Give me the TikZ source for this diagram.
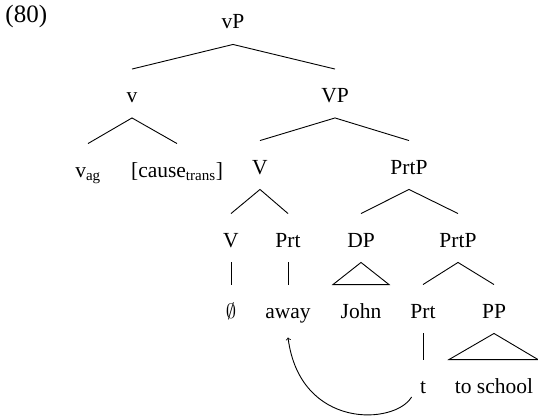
\documentclass[tikz,border=0pt]{standalone}
\usepackage{fontspec}
\setmainfont{Liberation Serif}
\usepackage{tikz}

\begin{document}
\begin{tikzpicture}[x=1pt, y=-1pt, line width=0.9pt,
  lab/.style={font=\fontsize{21.5}{25}\selectfont, anchor=base, inner xsep=0pt, inner ysep=11pt, text height=22pt, text depth=4pt}]
\useasboundingbox (0,0) rectangle (538,420);

\node [anchor=base west, inner sep=0pt, font=\fontsize{25}{29}\selectfont] (ex) at (5,23) {(80)};

\node [lab] (vP) at (233,29) {vP};
\node [lab] (v) at (132,102.5) {v};
\node [lab] (VP) at (335,102.5) {VP};
\node [lab] (vag) at (88,177) {v\textsubscript{ag}};
\node [lab] (cause) at (177,177) {[cause\textsubscript{trans}]};
\node [lab] (V) at (260,174) {V};
\node [lab] (PrtP) at (409,174) {PrtP};
\node [lab] (Vlow) at (231,247) {V};
\node [lab] (Prt) at (288,247) {Prt};
\node [lab] (DP) at (361,247) {DP};
\node [lab] (PrtPlow) at (458,247) {PrtP};
\node [lab] (null) at (231,318) {$\emptyset$};
\node [lab] (away) at (288,318) {away};
\node [lab] (John) at (361,318) {John};
\node [lab] (Prtlow) at (423,318) {Prt};
\node [lab] (PP) at (494,318) {PP};
\node [lab] (t) at (423,393) {t};
\node [lab] (school) at (494,393) {to school};

\draw (v.north) -- (vP.south) -- (VP.north);
\draw (vag.north) -- (v.south) -- (cause.north);
\draw (V.north) -- (VP.south) -- (PrtP.north);
\draw (Vlow.north) -- (V.south) -- (Prt.north);
\draw (DP.north) -- (PrtP.south) -- (PrtPlow.north);
\draw (Vlow.south) -- (null.north);
\draw (Prt.south) -- (away.north);
\draw (DP.south) -- ([xshift=-28pt]John.north) -- ([xshift=28pt]John.north) -- cycle;
\draw (Prtlow.north) -- (PrtPlow.south) -- (PP.north);
\draw (Prtlow.south) -- (t.north);
\draw (PP.south) -- ([xshift=-45pt]school.north) -- ([xshift=44pt]school.north) -- cycle;

\draw [->] ([shift={(-8pt,-4pt)}]t.base west) .. controls (395,425) and (300,430) .. ([yshift=-4pt]away.south);
\end{tikzpicture}
\end{document}
